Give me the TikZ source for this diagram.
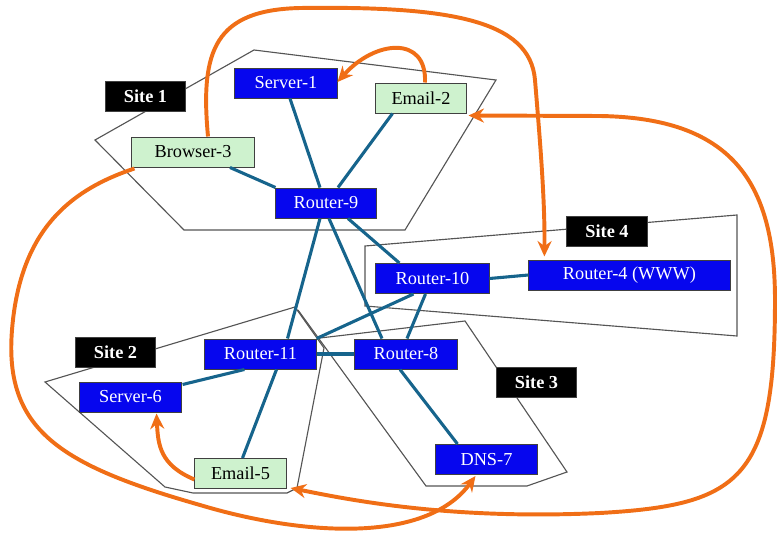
\documentclass[tikz,border=0pt]{standalone}
\usepackage{fontspec}
\setmainfont{Liberation Serif}
\usepackage{tikz}
\usetikzlibrary{arrows.meta}
\usetikzlibrary{calc}

\definecolor{hostblue}{RGB}{6,6,238}
\definecolor{hostgreen}{RGB}{206,242,206}
\definecolor{linkteal}{RGB}{22,100,140}
\definecolor{flowora}{RGB}{240,110,22}
\definecolor{sitegray}{RGB}{85,85,85}

\begin{document}
\begin{tikzpicture}[x=0.025cm,y=-0.025cm,>={Stealth[length=11pt,width=10pt]},
  box/.style={draw=black!75,line width=0.7pt,inner sep=0pt,minimum height=0.75cm,font=\fontsize{13}{15}\selectfont},
  blue node/.style={box,fill=hostblue,text=white},
  green node/.style={box,fill=hostgreen,text=black},
  site node/.style={box,fill=black,text=white,font=\fontsize{13}{15}\selectfont\bfseries,minimum width=2.02cm},
  site line/.style={draw=sitegray,line width=0.8pt,line join=miter},
  link/.style={draw=linkteal,line width=2.2pt},
  flow/.style={draw=flowora,line width=2.8pt,->}]

  \useasboundingbox (0,0) rectangle (779,545);

  % site outlines
  \draw[site line] (254,50) -- (496,80) -- (405,230) -- (184,230) -- (95,140) -- cycle;
  \draw[site line] (365,246) -- (737,215) -- (737,336) -- (365,306) -- cycle;
  \draw[site line] (45,382) -- (295,307) -- (324,348) -- (297,488) -- (287,493) -- (193,493) -- (165,487) -- cycle;
  \draw[site line] (298,310) -- (426,486) -- (527,486) -- (567,472) -- (465,321) -- (320,338);

  % hosts and routers
  \node[site node] (site1) at (145.5,96) {Site 1};
  \node[blue node, minimum width=2.55cm] (server1) at (286,83) {Server-1};
  \node[green node, minimum width=2.25cm] (email2) at (421,98) {Email-2};
  \node[green node, minimum width=3.05cm] (browser3) at (193,152) {Browser-3};
  \node[blue node, minimum width=2.5cm] (router9) at (326,203) {Router-9};

  \node[site node] (site4) at (607,231.5) {Site 4};
  \node[blue node, minimum width=2.83cm] (router10) at (432.5,278.5) {Router-10};
  \node[blue node, minimum width=5.03cm] (router4) at (629.5,275) {Router-4 (WWW)};

  \node[site node] (site2) at (115.5,352) {Site 2};
  \node[blue node, minimum width=2.78cm] (router11) at (260.5,354) {Router-11};
  \node[blue node, minimum width=2.53cm] (server6) at (130.5,397) {Server-6};
  \node[green node, minimum width=2.28cm] (email5) at (240.5,473.5) {Email-5};

  \node[blue node, minimum width=2.55cm] (router8) at (406,354) {Router-8};
  \node[site node] (site3) at (536.5,382) {Site 3};
  \node[blue node, minimum width=2.53cm] (dns7) at (486.5,459.5) {DNS-7};

  % network links
  \draw[link] ($(server1.south)+(4,0)$) -- ($(router9.north)+(-6,0)$);
  \draw[link] ($(email2.south west)+(17,0)$) -- ($(router9.north)+(12,0)$);
  \draw[link] ($(browser3.south)+(37,0)$) -- (router9.north west);
  \draw[link] ($(router9.south)+(-6,0)$) -- ($(router11.north)+(27,0)$);
  \draw[link] ($(router11.south)+(16,0)$) -- ($(email5.north)+(2,0)$);
  \draw[link] ($(router9.south)+(3,0)$) -- ($(router8.north)+(-24,0)$);
  \draw[link] ($(router9.south)+(22,0)$) -- ($(router10.north west)+(24,0)$);
  \draw[link] (router10.east) -- (router4.west);
  \draw[link] ($(router10.south)+(-19,0)$) -- (router11.north east);
  \draw[link] ($(router10.south)+(-7,0)$) -- ($(router8.north)+(1,0)$);
  \draw[link] (router11.east) -- (router8.west);
  \draw[link] ($(router11.south west)+(40,0)$) -- ($(server6.north east)+(1,3)$);
  \draw[link] ($(router8.south)+(-6,0)$) -- ($(dns7.north)+(-29,0)$);

  % traffic flows
  \draw[flow] ($(email2.north)+(4,0)$) .. controls (427,35) and (375,40) .. ($(server1.east)+(0,-1)$);
  \draw[flow] ($(browser3.north)+(15,0)$) .. controls (200,50) and (215,10) .. (300,8)
    .. controls (450,6) and (530,20) .. (535,80)
    .. controls (540,140) and (545,200) .. ($(router4.north west)+(16,-3)$);
  \draw[flow,<->] ($(email2.south east)+(2,2)$) -- (600,116)
    .. controls (730,118) and (775,180) .. (775,300)
    .. controls (775,480) and (740,505) .. (600,513)
    .. controls (450,520) and (350,500) .. ($(email5.south east)+(4,-1)$);
  \draw[flow] ($(browser3.south west)+(3,1)$) .. controls (70,190) and (20,230) .. (12,330)
    .. controls (4,430) and (60,465) .. (200,505)
    .. controls (300,535) and (425,545) .. ($(dns7.south)+(-11,1)$);
  \draw[flow] ($(email5.west)+(0,6)$) .. controls (160,465) and (158,445) .. ($(server6.south)+(26,1)$);

\end{tikzpicture}
\end{document}
